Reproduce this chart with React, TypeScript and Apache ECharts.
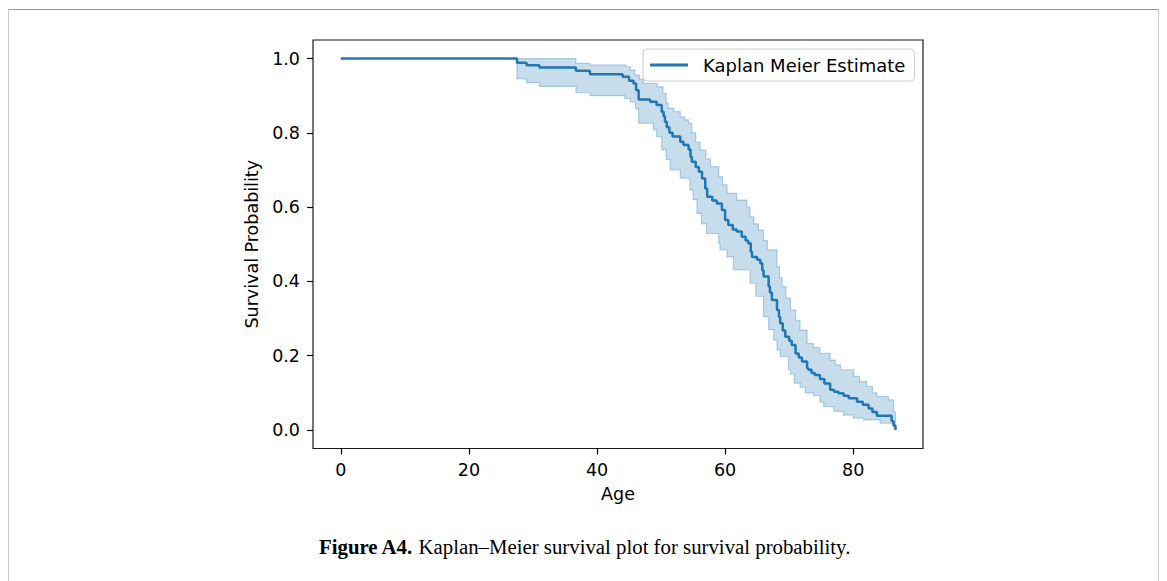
import React, { useEffect, useRef } from "react";
import * as echarts from "echarts";

// Kaplan–Meier estimate: step times (age) and survival probability after each step
const kmAges = [0, 27.5, 29.0, 31.0, 36.7, 38.9, 44.0, 45.0, 45.7, 46.1, 46.5, 48.3, 49.3, 50.1, 50.4, 50.6, 50.9, 51.3, 51.8, 53.0, 53.5, 54.3, 54.6, 54.8, 55.4, 55.9, 56.4, 56.9, 57.2, 58.0, 58.7, 59.5, 60.0, 60.5, 61.2, 61.8, 62.6, 63.2, 63.6, 64.0, 64.2, 65.0, 65.5, 65.8, 66.0, 66.8, 67.0, 67.3, 68.1, 68.4, 68.6, 69.0, 69.4, 70.0, 70.4, 71.0, 71.5, 72.0, 72.8, 73.0, 73.5, 74.0, 74.8, 75.5, 76.4, 77.0, 77.7, 78.5, 79.3, 80.6, 81.5, 82.4, 83.0, 83.7, 86.0, 86.3, 86.6];
const kmSurvival = [1.0, 0.989, 0.982, 0.976, 0.967, 0.958, 0.951, 0.94, 0.933, 0.915, 0.89, 0.884, 0.875, 0.857, 0.845, 0.83, 0.815, 0.8, 0.79, 0.776, 0.767, 0.755, 0.735, 0.722, 0.708, 0.695, 0.677, 0.65, 0.628, 0.618, 0.61, 0.592, 0.565, 0.552, 0.54, 0.534, 0.52, 0.51, 0.503, 0.48, 0.466, 0.458, 0.449, 0.43, 0.413, 0.386, 0.37, 0.35, 0.323, 0.305, 0.287, 0.268, 0.251, 0.24, 0.229, 0.206, 0.195, 0.184, 0.166, 0.162, 0.153, 0.148, 0.137, 0.125, 0.108, 0.103, 0.099, 0.092, 0.085, 0.076, 0.068, 0.058, 0.048, 0.038, 0.024, 0.012, 0.0];

// Upper confidence bound
const upperAges = [0, 36.7, 38.9, 44.5, 45.2, 45.9, 46.6, 47.2, 49.4, 50.3, 50.8, 51.1, 52.0, 53.0, 53.7, 54.3, 54.8, 55.4, 56.1, 57.0, 57.7, 59.0, 59.6, 60.3, 61.8, 63.4, 63.9, 64.5, 65.2, 66.0, 66.6, 68.1, 68.5, 68.9, 69.5, 70.2, 71.0, 71.7, 72.8, 73.8, 74.8, 76.4, 77.2, 78.0, 80.1, 81.0, 82.1, 83.0, 83.7, 85.5, 86.3];
const upperVals = [1.0, 0.987, 0.983, 0.978, 0.969, 0.956, 0.945, 0.933, 0.924, 0.906, 0.88, 0.866, 0.857, 0.843, 0.835, 0.826, 0.8, 0.775, 0.754, 0.73, 0.709, 0.682, 0.66, 0.637, 0.619, 0.601, 0.574, 0.555, 0.538, 0.51, 0.485, 0.44, 0.41, 0.386, 0.355, 0.323, 0.295, 0.269, 0.233, 0.222, 0.206, 0.188, 0.175, 0.162, 0.144, 0.13, 0.117, 0.1, 0.09, 0.081, 0.049];

// Lower confidence bound
const lowerAges = [0, 27.5, 29.0, 31.0, 36.7, 38.9, 44.3, 45.2, 46.0, 46.5, 48.8, 49.3, 50.1, 50.8, 51.4, 53.0, 54.5, 55.0, 55.6, 56.3, 57.1, 59.0, 59.2, 60.3, 61.3, 63.9, 64.8, 66.0, 66.8, 67.6, 68.1, 68.6, 69.9, 70.2, 70.8, 71.7, 72.5, 73.8, 74.8, 75.4, 77.0, 78.5, 80.0, 81.6, 84.2, 86.3];
const lowerVals = [1.0, 0.945, 0.935, 0.925, 0.908, 0.9, 0.893, 0.883, 0.865, 0.826, 0.808, 0.79, 0.754, 0.728, 0.7, 0.678, 0.646, 0.62, 0.583, 0.555, 0.529, 0.503, 0.485, 0.466, 0.431, 0.395, 0.36, 0.305, 0.27, 0.242, 0.215, 0.197, 0.162, 0.15, 0.126, 0.115, 0.1, 0.092, 0.075, 0.063, 0.05, 0.04, 0.032, 0.027, 0.018, 0.009];

const bandEnd = 86.6;
const xTicks = [0, 20, 40, 60, 80];
const yTicks = [0, 0.2, 0.4, 0.6, 0.8, 1.0];

const seriesName = "Kaplan Meier Estimate";
const xName = "Age";
const yName = "Survival Probability";

const FONT = "DejaVu Sans";
const BLUE = "#1f77b4";

function stepPoints(xs: number[], ys: number[], end: number): number[][] {
  const pts: number[][] = [];
  for (let i = 0; i < xs.length; i++) {
    const nx = i < xs.length - 1 ? xs[i + 1] : end;
    pts.push([xs[i], ys[i]]);
    pts.push([nx, ys[i]]);
  }
  return pts;
}

export default function App() {
  const ref = useRef<HTMLDivElement>(null);

  useEffect(() => {
    document.body.style.margin = "0";
    const chart = echarts.init(ref.current!, null, { renderer: "svg" });

    const upperPts = stepPoints(upperAges, upperVals, bandEnd);
    const lowerPts = stepPoints(lowerAges, lowerVals, bandEnd).reverse();
    const bandPts = upperPts.concat(lowerPts);

    chart.setOption({
      animation: false,
      backgroundColor: "#ffffff",
      grid: {
        left: 313,
        top: 40,
        right: 244,
        bottom: 132.5,
        show: true,
        borderColor: "#1a1a1a",
        borderWidth: 1.2,
        backgroundColor: "transparent",
      },
      xAxis: {
        type: "value",
        min: -4.35,
        max: 90.9,
        name: xName,
        nameLocation: "middle",
        nameGap: 36,
        nameTextStyle: { fontFamily: FONT, fontSize: 17.5, color: "#000" },
        axisLine: { show: false, onZero: false },
        splitLine: { show: false },
        axisTick: {
          show: true,
          inside: false,
          customValues: xTicks,
          length: 6,
          lineStyle: { color: "#000", width: 1.2 },
        },
        axisLabel: {
          customValues: xTicks,
          margin: 12,
          fontFamily: FONT,
          fontSize: 17.5,
          color: "#000",
        },
      },
      yAxis: {
        type: "value",
        min: -0.05,
        max: 1.05,
        name: yName,
        nameLocation: "middle",
        nameGap: 50,
        nameTextStyle: { fontFamily: FONT, fontSize: 17.5, color: "#000" },
        axisLine: { show: false, onZero: false },
        splitLine: { show: false },
        axisTick: {
          show: true,
          inside: false,
          customValues: yTicks,
          length: 6,
          lineStyle: { color: "#000", width: 1.2 },
        },
        axisLabel: {
          customValues: yTicks,
          margin: 13,
          fontFamily: FONT,
          fontSize: 17.5,
          color: "#000",
          formatter: (v: number) => v.toFixed(1),
        },
      },
      legend: {
        data: [{ name: seriesName, icon: "rect" }],
        left: 643,
        top: 49,
        padding: [7, 9, 7, 7],
        backgroundColor: "#ffffff",
        borderColor: "#cccccc",
        borderWidth: 1,
        borderRadius: 4,
        itemWidth: 38,
        itemHeight: 3,
        textStyle: {
          fontFamily: FONT,
          fontSize: 18,
          color: "#000",
          padding: [0, 0, 0, 10],
        },
      },
      graphic: [
        { type: "line", shape: { x1: 8, y1: 9.5, x2: 1159, y2: 9.5 }, style: { stroke: "#9a9a9a", lineWidth: 1 }, silent: true },
        { type: "line", shape: { x1: 8.5, y1: 9.5, x2: 8.5, y2: 581 }, style: { stroke: "#c8c8c8", lineWidth: 1 }, silent: true },
        { type: "line", shape: { x1: 1158.5, y1: 9.5, x2: 1158.5, y2: 581 }, style: { stroke: "#c8c8c8", lineWidth: 1 }, silent: true },
        {
          type: "text",
          left: 319,
          top: 536,
          style: {
            text: "{b|Figure A4.} Kaplan–Meier survival plot for survival probability.",
            rich: {
              b: { fontFamily: "Liberation Serif", fontWeight: "bold", fontSize: 20.8, fill: "#000" },
            },
            fontFamily: "Liberation Serif",
            fontSize: 20.8,
            fill: "#000",
          },
          silent: true,
        },
      ],
      series: [
        {
          type: "custom",
          name: "ci",
          data: [[0, 0]],
          silent: true,
          z: 1,
          renderItem: (params: any, api: any) => {
            const pts = bandPts.map((p) => api.coord(p));
            return {
              type: "polygon",
              shape: { points: pts },
              style: {
                fill: "rgba(31,119,180,0.25)",
                stroke: "rgba(31,119,180,0.3)",
                lineWidth: 1.2,
              },
            };
          },
        },
        {
          type: "line",
          name: seriesName,
          data: kmAges.map((a, i) => [a, kmSurvival[i]]),
          step: "end",
          symbol: "none",
          showSymbol: false,
          z: 3,
          lineStyle: { color: BLUE, width: 2.5 },
          itemStyle: { color: BLUE },
        },
      ],
    });

    return () => chart.dispose();
  }, []);

  return (
    <div
      ref={ref}
      style={{ position: "fixed", left: 0, top: 0, width: 1167, height: 581 }}
    />
  );
}
